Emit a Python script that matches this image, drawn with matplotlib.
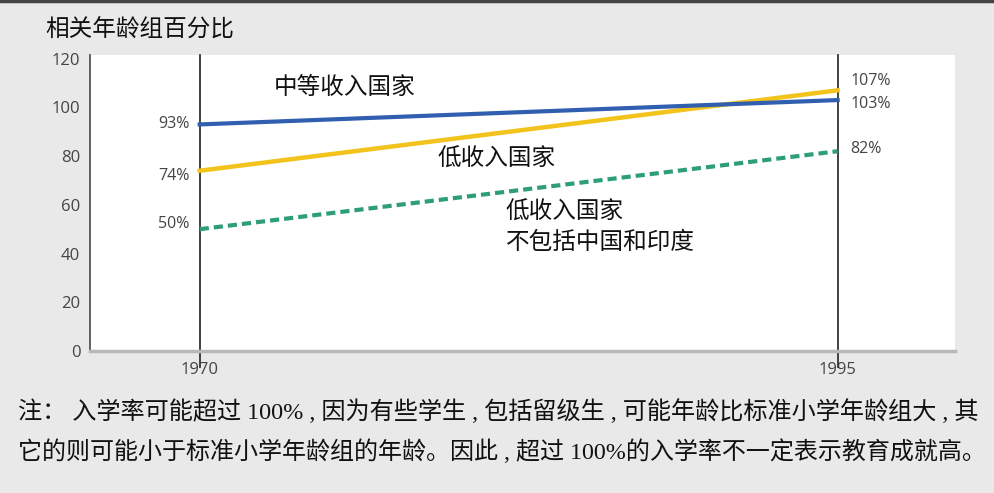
import matplotlib
matplotlib.use("Agg")
import matplotlib.pyplot as plt

plt.rcParams['font.family'] = ['Noto Sans CJK SC', 'DejaVu Sans']

# 数据
years = [1970, 1995]
middle_income = [93, 103]
low_income = [74, 107]
low_income_ex = [50, 82]
y_ticks = [0, 20, 40, 60, 80, 100, 120]

title = "相关年龄组百分比"
note_1 = "注： 入学率可能超过 100% , 因为有些学生 , 包括留级生 , 可能年龄比标准小学年龄组大 , 其"
note_2 = "它的则可能小于标准小学年龄组的年龄。因此 , 超过 100%的入学率不一定表示教育成就高。"

bg = "#e9e9e9"
fig = plt.figure(figsize=(9.94, 4.93), dpi=100, facecolor=bg)
ax = fig.add_axes([90 / 994, 1 - 351 / 493, 865 / 994, 296 / 493])
ax.set_facecolor("white")

ax.set_xlim(1965.7, 1999.6)
ax.set_ylim(0, 121.5)

# 两条竖线 (1970, 1995)
for yr in years:
    ax.axvline(yr, ymin=-0.055, ymax=1, color="#333333", lw=1.3, clip_on=False, zorder=2)

ax.plot(years, low_income_ex, color="#2e9e78", lw=3, linestyle=(0, (2.2, 1.2)), zorder=3,
        solid_capstyle="butt")
ax.plot(years, low_income, color="#f2c31a", lw=3.2, zorder=3)
ax.plot(years, middle_income, color="#2f5fae", lw=3, zorder=4)

# 起点/终点标签
lab_kw = dict(fontsize=11.5, color="#444444", family=["Open Sans", "DejaVu Sans"], va="center")
ax.text(1969.6, middle_income[0], "%d%%" % middle_income[0], ha="right", **lab_kw)
ax.text(1969.6, low_income[0] - 2, "%d%%" % low_income[0], ha="right", **lab_kw)
ax.text(1969.6, low_income_ex[0] + 2, "%d%%" % low_income_ex[0], ha="right", **lab_kw)
ax.text(1995.5, low_income[1] + 4, "%d%%" % low_income[1], ha="left", **lab_kw)
ax.text(1995.5, middle_income[1] - 1.5, "%d%%" % middle_income[1], ha="left", **lab_kw)
ax.text(1995.5, low_income_ex[1] + 1, "%d%%" % low_income_ex[1], ha="left", **lab_kw)

# 系列名称
ax.text(1972.9, 108, "中等收入国家", fontsize=17, color="#111111", va="center")
ax.text(1979.3, 78.5, "低收入国家", fontsize=17, color="#111111", va="center")
ax.text(1982.0, 57, "低收入国家", fontsize=17, color="#111111", va="center")
ax.text(1982.0, 44.5, "不包括中国和印度", fontsize=17, color="#111111", va="center")

ax.set_yticks(y_ticks)
ax.set_yticklabels([str(v) for v in y_ticks], family=["Open Sans", "DejaVu Sans"],
                   fontsize=12, color="#444444")
ax.set_xticks(years)
ax.set_xticklabels([str(v) for v in years], family=["Open Sans", "DejaVu Sans"],
                   fontsize=12, color="#444444")
ax.tick_params(axis="y", length=0, pad=7)
ax.tick_params(axis="x", length=0, pad=8)

for s in ["top", "right"]:
    ax.spines[s].set_visible(False)
ax.spines["left"].set_color("#555555")
ax.spines["left"].set_linewidth(1.3)
ax.spines["bottom"].set_color("#b8b8b8")
ax.spines["bottom"].set_linewidth(2.5)

fig.text(45 / 994, 1 - 30 / 493, title, fontsize=17, color="#111111", va="center")
fig.text(18 / 994, 1 - 412 / 493, note_1, fontsize=17.4, color="#111111", va="center",
         family=["Liberation Serif", "Noto Sans CJK SC"])
fig.text(18 / 994, 1 - 452 / 493, note_2, fontsize=17.3, color="#111111", va="center",
         family=["Liberation Serif", "Noto Sans CJK SC"])

# 顶部深色边线
fig.add_artist(plt.Line2D([0, 1], [0.998, 0.998], color="#444444", lw=2.5, transform=fig.transFigure))

fig.savefig("out.png", dpi=100, facecolor=bg)
